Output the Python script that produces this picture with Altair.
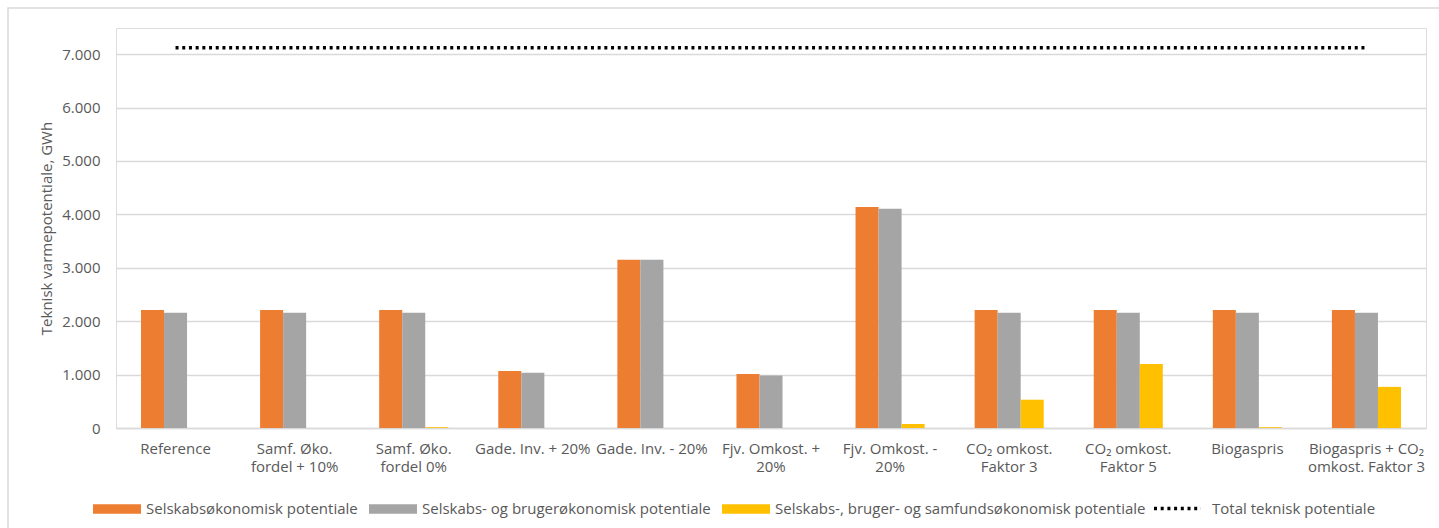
import altair as alt
import pandas as pd

categories = [
    "Reference",
    "Samf. Øko.\nfordel + 10%",
    "Samf. Øko.\nfordel 0%",
    "Gade. Inv. + 20%",
    "Gade. Inv. - 20%",
    "Fjv. Omkost. +\n20%",
    "Fjv. Omkost. -\n20%",
    "CO₂ omkost.\nFaktor 3",
    "CO₂ omkost.\nFaktor 5",
    "Biogaspris",
    "Biogaspris + CO₂\nomkost. Faktor 3",
]
series_names = [
    "Selskabsøkonomisk potentiale",
    "Selskabs- og brugerøkonomisk potentiale",
    "Selskabs-, bruger- og samfundsøkonomisk potentiale",
]
orange_vals = [2210, 2210, 2210, 1065, 3150, 1010, 4140, 2210, 2210, 2210, 2210]
gray_vals = [2160, 2160, 2160, 1035, 3150, 985, 4105, 2160, 2160, 2160, 2160]
yellow_vals = [0, 0, 15, 0, 0, 0, 75, 530, 1200, 15, 770]
total_name = "Total teknisk potentiale"
total_vals = [7120, 7120, 7120, 7120, 7120, 7120, 7120, 7120, 7120, 7120, 7120]
y_ticks = [0, 1000, 2000, 3000, 4000, 5000, 6000, 7000]
bar_colors = ["#ED7D31", "#A5A5A5", "#FFC000"]

rows = []
for i, c in enumerate(categories):
    for s, vals in zip(series_names, [orange_vals, gray_vals, yellow_vals]):
        rows.append({"cat": c, "series": s, "value": vals[i]})
bars_df = pd.DataFrame(rows)
line_df = pd.DataFrame({"cat": categories, "series": [total_name] * len(categories), "value": total_vals})

W, H = 1310, 400
FONT = "Open Sans"
FS = 15
TXT = "#595959"

x_scale = alt.Scale(domain=categories, paddingInner=0.42, paddingOuter=0.21)
y_scale = alt.Scale(domain=[0, 7490], nice=False)

x_axis = alt.Axis(
    title=None, labelExpr="split(datum.label, '\\n')", labelAngle=0, ticks=False,
    domainColor="#d9d9d9", domainWidth=1.5, labelPadding=13, labelFontSize=FS,
    labelColor=TXT, labelLineHeight=18, labelOverlap=False, labelLimit=300,
    grid=False, labelBaseline="top", labelFont=FONT,
)
y_axis = alt.Axis(
    title="Teknisk varmepotentiale, GWh", values=y_ticks,
    labelExpr="replace(format(datum.value, ','), ',', '.')",
    ticks=False, domain=False, gridColor="#d9d9d9", gridWidth=1.3,
    labelPadding=16, labelFontSize=FS, labelColor=TXT, labelFont=FONT,
    titleFontSize=FS, titleColor=TXT, titleFontWeight="normal", titlePadding=7,
    titleFont=FONT,
)

frame = alt.Chart(pd.DataFrame({"a": [0]})).mark_rect(
    fill="transparent", stroke="#d9d9d9", strokeWidth=1.5
).encode(x=alt.value(-108), x2=alt.value(1329), y=alt.value(-20), y2=alt.value(507))

bars = alt.Chart(bars_df).mark_bar().encode(
    x=alt.X("cat:N", scale=x_scale, axis=x_axis, sort=categories),
    xOffset=alt.XOffset("series:N", sort=series_names,
                        scale=alt.Scale(domain=series_names, paddingInner=0, paddingOuter=0)),
    y=alt.Y("value:Q", scale=y_scale, axis=y_axis),
    color=alt.Color(
        "series:N", scale=alt.Scale(domain=series_names, range=bar_colors),
        legend=alt.Legend(
            title=None, orient="none", legendX=-23, legendY=457, direction="horizontal",
            symbolType="M-1,-0.2H1V0.2H-1Z", symbolSize=2304, symbolStrokeWidth=0,
            symbolOpacity=1, labelFontSize=FS, labelColor=TXT, labelFont=FONT,
            labelOffset=5, columnPadding=11, padding=0, labelLimit=600,
        ),
    ),
)

line = alt.Chart(line_df).mark_line(color="black", strokeWidth=3.3).encode(
    x=alt.X("cat:N", scale=x_scale, axis=x_axis, sort=categories),
    y=alt.Y("value:Q", scale=y_scale, axis=y_axis),
    strokeDash=alt.StrokeDash(
        "series:N", scale=alt.Scale(domain=[total_name], range=[[3, 3.7]]),
        legend=alt.Legend(
            title=None, orient="none", legendX=1036, legendY=455, direction="horizontal",
            symbolType="stroke", symbolSize=2209, symbolStrokeWidth=3.3,
            symbolStrokeColor="black", labelFontSize=FS, labelColor=TXT, labelFont=FONT,
            labelOffset=9, padding=0, labelLimit=600,
        ),
    ),
)

chart = alt.layer(frame, bars, line).properties(
    width=W, height=H,
    padding={"left": 116, "top": 28, "right": 13, "bottom": 100},
    autosize=alt.AutoSizeParams(type="none"),
    background="white",
).configure_view(strokeWidth=0).configure(font=FONT)

chart.save("out.html", embed_options={"renderer": "svg", "actions": False})
